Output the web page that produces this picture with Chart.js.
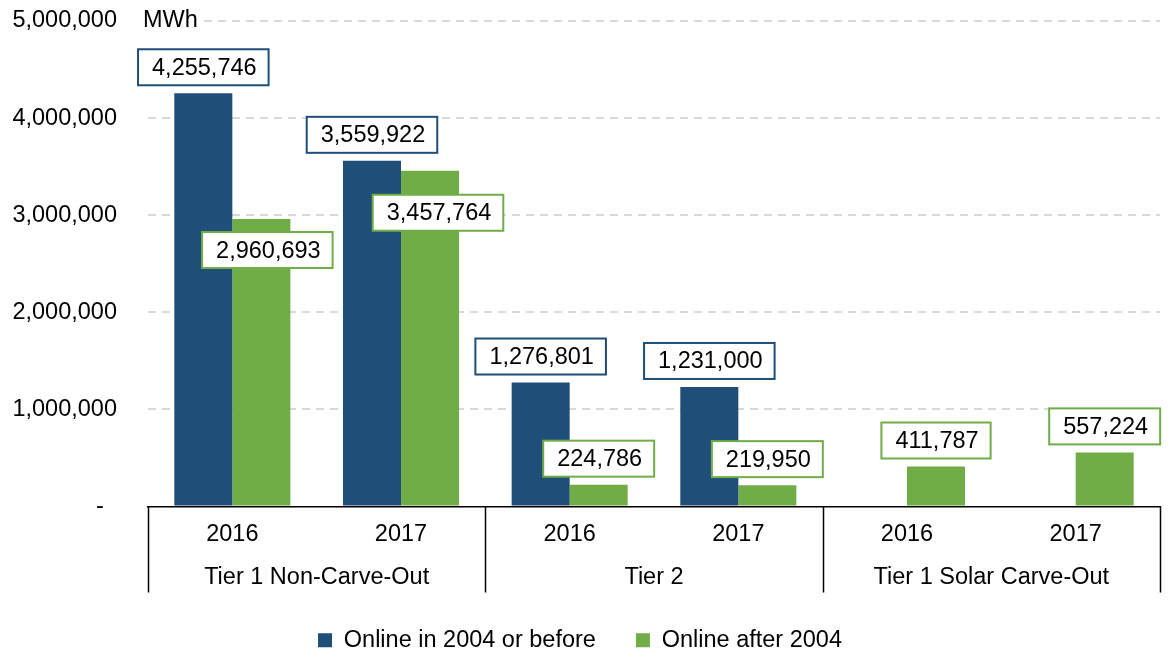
<!DOCTYPE html>
<html>
<head>
<meta charset="utf-8">
<script src="https://cdn.jsdelivr.net/npm/chart.js@4/dist/chart.umd.min.js"></script>
<style>
  html, body { margin: 0; padding: 0; background: #fff; }
  #wrap { width: 1169px; height: 655px; position: relative; }
</style>
</head>
<body>
<div id="wrap"><canvas id="rpsChart"></canvas></div>
<script>
const years = ['2016', '2017', '2016', '2017', '2016', '2017'];
const groups = ['Tier 1 Non-Carve-Out', 'Tier 2', 'Tier 1 Solar Carve-Out'];
const onlineBefore = [4255746, 3559922, 1276801, 1231000, null, null];
const onlineAfter = [2960693, 3457764, 224786, 219950, 411787, 557224];
const yTicks = [0, 1000000, 2000000, 3000000, 4000000, 5000000];

const FONT = 'Arial, "Liberation Sans", sans-serif';
const FSIZE = 23.5;
const BLUE = '#1F4E79';
const GREEN = '#70AD47';

function fmt(v) {
    return v.toLocaleString('en-US');
}

// boxes around the value labels
const boxLabels = {
    id: 'boxLabels',
    afterDatasetsDraw(chart) {
        const ctx = chart.ctx;
        // labels that sit just under the bar top instead of above it: [dx, dy]
        const inside = { '1-0': [6, 31], '1-1': [8, 42] };
        ctx.save();
        ctx.font = FSIZE + 'px ' + FONT;
        ctx.textAlign = 'center';
        ctx.textBaseline = 'middle';
        chart.data.datasets.forEach((ds, di) => {
            const meta = chart.getDatasetMeta(di);
            meta.data.forEach((bar, i) => {
                const v = ds.data[i];
                if (v == null) return;
                const txt = fmt(v);
                const w = ctx.measureText(txt).width + 26;
                const h = 36;
                let cx = bar.x, cy = bar.y - 8 - h / 2;
                const o = inside[di + '-' + i];
                if (o) { cx = bar.x + o[0]; cy = bar.y + o[1]; }
                ctx.fillStyle = '#fff';
                ctx.fillRect(cx - w / 2, cy - h / 2, w, h);
                ctx.lineWidth = 2;
                ctx.strokeStyle = ds.backgroundColor;
                ctx.strokeRect(cx - w / 2, cy - h / 2, w, h);
                ctx.fillStyle = '#000';
                ctx.fillText(txt, cx + 1, cy + 1);
            });
        });
        ctx.restore();
    },
    afterDraw(chart) {
        const ctx = chart.ctx;
        const x = chart.scales.x;
        const y = chart.scales.y;
        ctx.save();
        // group dividers and group names under the year labels
        ctx.strokeStyle = '#000';
        ctx.lineWidth = 1.5;
        const step = (x.right - x.left) / years.length;
        for (let g = 0; g <= groups.length; g++) {
            const px = Math.round(x.left + g * 2 * step) + 0.5;
            ctx.beginPath();
            ctx.moveTo(px, y.bottom);
            ctx.lineTo(px, y.bottom + 86);
            ctx.stroke();
        }
        ctx.font = FSIZE + 'px ' + FONT;
        ctx.fillStyle = '#000';
        ctx.textAlign = 'center';
        ctx.textBaseline = 'middle';
        groups.forEach((g, i) => {
            ctx.fillText(g, x.left + (i * 2 + 1) * step, y.bottom + 71);
        });
        // unit label
        const ty = y.getPixelForValue(5000000);
        ctx.fillStyle = '#fff';
        ctx.fillRect(x.left - 8, ty - 14, 64, 28);
        ctx.fillStyle = '#000';
        ctx.textAlign = 'left';
        ctx.fillText('MWh', x.left - 5, ty);
        ctx.restore();
    }
};

new Chart(document.getElementById('rpsChart'), {
    type: 'bar',
    data: {
        labels: years,
        datasets: [
            {
                label: 'Online in 2004 or before',
                data: onlineBefore,
                backgroundColor: BLUE,
            },
            {
                label: 'Online after 2004',
                data: onlineAfter,
                backgroundColor: GREEN,
            },
        ],
    },
    options: {
        responsive: true,
        maintainAspectRatio: false,
        animation: false,
        datasets: {
            bar: {
                categoryPercentage: 0.688,
                barPercentage: 1.0,
            },
        },
        layout: {
            padding: { top: 21, right: 9, left: 0, bottom: -7 },
        },
        scales: {
            x: {
                grid: { display: false, drawTicks: false },
                border: { display: true, color: '#000', width: 1.5 },
                ticks: {
                    color: '#000',
                    font: { family: FONT, size: FSIZE },
                    padding: 14,
                    maxRotation: 0,
                },
                afterFit(scale) {
                    scale.height = 82;
                },
            },
            y: {
                min: 0,
                max: 5000000,
                afterBuildTicks(scale) {
                    scale.ticks = yTicks.map((v) => ({ value: v }));
                },
                grid: {
                    color: (c) => (c.tick && c.tick.value === 0 ? 'rgba(0,0,0,0)' : '#D9D9D9'),
                    lineWidth: 2,
                    drawTicks: true,
                    tickLength: 31,
                    tickColor: 'rgba(0,0,0,0)',
                },
                border: { display: false, dash: [8, 6] },
                ticks: {
                    color: '#000',
                    font: { family: FONT, size: FSIZE },
                    padding: 0,
                    callback: (v) => (v === 0 ? '-  ' : fmt(v)),
                },
                afterFit(scale) {
                    scale.width = 148;
                },
            },
        },
        plugins: {
            legend: {
                position: 'bottom',
                labels: {
                    color: '#000',
                    font: { family: FONT, size: FSIZE },
                    boxWidth: 14,
                    boxHeight: 14,
                    padding: 40,
                },
            },
            tooltip: { enabled: false },
        },
    },
    plugins: [boxLabels],
});
</script>
</body>
</html>
